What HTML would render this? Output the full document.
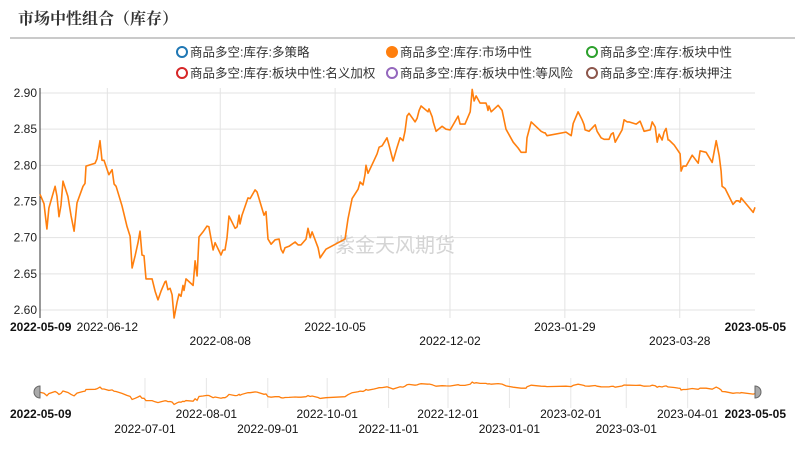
<!DOCTYPE html>
<html><head><meta charset="utf-8">
<style>
body{margin:0;background:#fff;}
svg text{font-family:"Liberation Sans","Noto Sans CJK SC",sans-serif;}
</style></head>
<body>
<svg id="c" width="802" height="458" xmlns="http://www.w3.org/2000/svg">
<text x="18" y="24" font-size="16" font-weight="bold" fill="#333" style="font-family:'Noto Serif CJK SC','Liberation Serif',serif">市场中性组合（库存）</text>
<line x1="10" y1="38" x2="795" y2="38" stroke="#aaa" stroke-width="1.2"/>
<g id="legend"></g>
<g id="grid"></g>
<g id="axes"></g>
<text x="335" y="252" font-size="20" fill="#d4d4d4" style="font-family:'Noto Sans CJK SC',sans-serif">紫金天风期货</text>
<g id="series"></g>
<g id="slider"></g>
</svg>
<script>
const legendLabels=["商品多空:库存:多策略","商品多空:库存:市场中性","商品多空:库存:板块中性","商品多空:库存:板块中性:名义加权","商品多空:库存:板块中性:等风险","商品多空:库存:板块押注"];
const legendColors=["#1f77b4","#ff7f0e","#2ca02c","#d62728","#9467bd","#8c564b"];
const yTicks=[2.60,2.65,2.70,2.75,2.80,2.85,2.90];
const xTickDays=[0,34,91,149,207,265,323,361];
const xTickLabels=["2022-05-09","2022-06-12","2022-08-08","2022-10-05","2022-12-02","2023-01-29","2023-03-28","2023-05-05"];
const sliderTickDays=[53,84,115,145,176,206,237,268,296,327];
const sliderTickLabels=["2022-07-01","2022-08-01","2022-09-01","2022-10-01","2022-11-01","2022-12-01","2023-01-01","2023-02-01","2023-03-01","2023-04-01"];
const days=[0,2,3.5,4.5,7.6,8.6,9.6,10.6,11.6,14.1,15.7,17.2,18.7,21.7,22.7,23.2,27.8,28.8,30.3,31.3,32.3,34.8,36.4,37.4,38.4,41.4,43.9,45.5,46.5,48,49.5,50.5,51.5,52.5,53.5,56.6,58.1,59.6,61.1,63.1,63.6,64.6,65.7,66.7,67.7,69.2,70.2,71.2,72.2,72.7,73.7,77.3,78.3,79.3,80.3,82.3,84.3,85.3,87.4,88.4,91.4,92.4,93.4,94.4,95.4,98.5,99.5,100.5,101,102,105,106.1,108.6,109.6,113.1,114.1,115.1,116.7,118.7,120.7,121.7,122.7,123.7,125.7,128.8,130.3,131.8,134.3,135.3,136.4,137.4,140.4,141.4,142.4,144.4,154,155.5,157.6,160.6,161.6,163.1,164.1,164.6,165.6,168.7,170.2,171.2,172.7,175.2,176.2,178.3,180.3,181.8,183.3,184.3,185.3,186.3,189.4,190.4,191.4,192.4,195.9,196.4,198,198.5,200,203,205,207.1,211.1,212.1,214.6,217.2,218.2,219.2,220.2,222.2,225.2,225.7,226.2,226.7,227.8,231.3,233.3,235.3,238.9,241.4,242.9,245.4,245.9,248,253,254.5,255,256,265.6,268.2,269.2,271.7,273.7,274.7,275.2,277.2,280.3,281.3,283.3,284.8,287.3,288.4,289.4,290.4,293.9,294.9,296.4,297.4,301,303,305,308.1,309.1,310.6,311.6,312.6,314.1,315.1,316.1,317.1,317.6,320.2,322.2,323.2,323.7,324.7,326.2,329.3,332.3,333.3,336.3,339.4,341.4,342.9,343.9,344.4,345.9,349.9,351.5,352.5,353.5,354,360.1,361];
const values=[2.76,2.747,2.712,2.741,2.771,2.757,2.729,2.745,2.778,2.757,2.73,2.709,2.748,2.771,2.775,2.799,2.803,2.809,2.834,2.807,2.807,2.787,2.794,2.774,2.771,2.744,2.716,2.702,2.658,2.675,2.693,2.709,2.676,2.675,2.643,2.643,2.626,2.614,2.626,2.639,2.64,2.628,2.63,2.621,2.589,2.611,2.622,2.619,2.634,2.627,2.643,2.634,2.668,2.647,2.701,2.708,2.716,2.715,2.683,2.693,2.676,2.683,2.683,2.7,2.73,2.713,2.715,2.731,2.719,2.731,2.755,2.754,2.766,2.763,2.731,2.736,2.698,2.691,2.697,2.698,2.684,2.679,2.686,2.688,2.694,2.69,2.69,2.698,2.713,2.70,2.708,2.686,2.672,2.676,2.684,2.698,2.726,2.754,2.767,2.777,2.773,2.787,2.80,2.789,2.807,2.816,2.825,2.827,2.838,2.828,2.806,2.825,2.838,2.834,2.847,2.868,2.872,2.86,2.865,2.876,2.882,2.874,2.878,2.867,2.86,2.847,2.854,2.85,2.849,2.868,2.857,2.857,2.874,2.905,2.889,2.896,2.886,2.886,2.882,2.876,2.882,2.874,2.883,2.876,2.85,2.832,2.824,2.818,2.818,2.838,2.86,2.847,2.845,2.845,2.841,2.846,2.841,2.858,2.874,2.863,2.856,2.849,2.847,2.856,2.847,2.838,2.836,2.836,2.843,2.845,2.832,2.849,2.863,2.86,2.86,2.857,2.861,2.847,2.849,2.86,2.853,2.832,2.843,2.835,2.846,2.851,2.835,2.835,2.828,2.82,2.816,2.792,2.799,2.799,2.814,2.803,2.82,2.818,2.804,2.834,2.813,2.792,2.771,2.768,2.746,2.751,2.751,2.749,2.755,2.735,2.742,2.755];

const NS="http://www.w3.org/2000/svg";
const X0=40,X1=755,Y0=93,Y1=310,DMAX=361,VMIN=2.60,VMAX=2.90;
const xS=d=>X0+(d/DMAX)*(X1-X0);
const yS=v=>Y1-(v-VMIN)/(VMAX-VMIN)*(Y1-Y0);
function mk(tag,attrs,parent,text){const e=document.createElementNS(NS,tag);for(const k in attrs)e.setAttribute(k,attrs[k]);if(text!==undefined)e.textContent=text;parent.appendChild(e);return e;}
const g=id=>document.getElementById(id);

// legend
const lx=[182,392,592];
legendLabels.forEach((l,i)=>{
  const cx=lx[i%3],cy=52+Math.floor(i/3)*21;
  const it=mk('g',{},g('legend'));
  
  
  mk('circle',{cx:cx,cy:cy,r:5,fill:i===1?legendColors[i]:'#fff',stroke:legendColors[i],'stroke-width':2},it);
  mk('text',{x:cx+8,y:cy+4.5,'font-size':12.5,fill:'#333'},it,l);
});

// grid + y axis
yTicks.forEach(v=>{
  const gl=mk('line',{x1:X0,x2:X1,y1:yS(v),y2:yS(v),stroke:'#e3e3e3','stroke-width':1},g('grid'));
  
  
  const t=mk('text',{x:37,y:yS(v)+4,'font-size':12,'text-anchor':'end',fill:'#222'},g('axes'),v.toFixed(2));
  
  
});
xTickDays.forEach((d,i)=>{
  if(i>0&&i<xTickDays.length-1){
    const vl=mk('line',{x1:xS(d),x2:xS(d),y1:88,y2:318,stroke:'#e3e3e3'},g('grid'));
    
    
  }
  let anchor='middle',x=xS(d),y=(i%2===0||i===xTickLabels.length-1)?331:345,bold=false;
  if(i===1)y=331; if(i===2)y=345; if(i===3)y=331; if(i===4)y=345; if(i===5)y=331; if(i===6)y=345;
  if(i===0){anchor='start';x=10;y=331;bold=true;}
  if(i===xTickDays.length-1){anchor='end';x=786;y=331;bold=true;}
  const t=mk('text',{x:x,y:y,'font-size':12,'text-anchor':anchor,fill:'#111','font-weight':bold?'bold':'normal'},g('axes'),xTickLabels[i]);
  
  
});
const ax=mk('line',{x1:X0,x2:X0,y1:88,y2:318,stroke:'#333','stroke-width':1},g('axes'));



// series
const pts=days.map((d,i)=>xS(d).toFixed(1)+','+yS(values[i]).toFixed(1)).join(' ');
const pl=mk('polyline',{points:pts,fill:'none',stroke:'#ff7f0e','stroke-width':1.6,'stroke-linejoin':'round'},g('series'));



// slider
const SY0=378,SY1=408;
const syS=v=>405-(v-2.58)/(2.92-2.58)*(405-381);
sliderTickDays.forEach((d,i)=>{
  const sl=mk('line',{x1:xS(d),x2:xS(d),y1:SY0,y2:SY1,stroke:'#e6e6e6'},g('slider'));
  
  
  const t=mk('text',{x:xS(d),y:i%2===0?433:418,'font-size':12,'text-anchor':'middle',fill:'#111'},g('slider'),sliderTickLabels[i]);
  
  
});
const sp=days.map((d,i)=>xS(d).toFixed(1)+','+syS(values[i]).toFixed(1)).join(' ');
const spl=mk('polyline',{points:sp,fill:'none',stroke:'#ff7f0e','stroke-width':1.3},g('slider'));


const sl1=mk('text',{x:10,y:418,'font-size':12,'font-weight':'bold',fill:'#111'},g('slider'),xTickLabels[0]);


const sl2=mk('text',{x:786,y:418,'font-size':12,'font-weight':'bold','text-anchor':'end',fill:'#111'},g('slider'),xTickLabels[xTickLabels.length-1]);


[X0-3,X1+3].forEach((hx,i)=>{
  const h=mk('path',{d:i===0?`M${hx+3},386 A6,6 0 0 0 ${hx+3},398 Z`:`M${hx-3},386 A6,6 0 0 1 ${hx-3},398 Z`,fill:'#aaa',stroke:'#666','stroke-width':1},g('slider'));
  
  
});
</script>
</body></html>
